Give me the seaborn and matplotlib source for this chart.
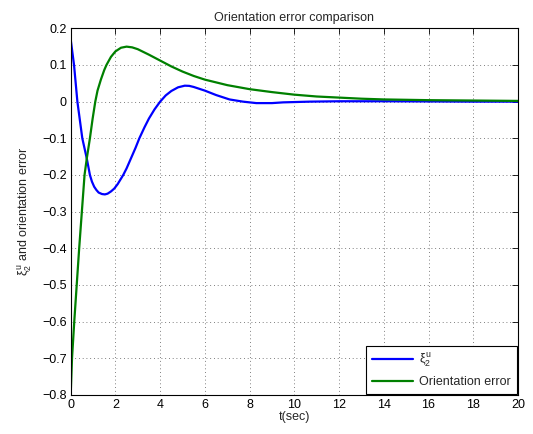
import matplotlib
matplotlib.use("Agg")
import matplotlib.pyplot as plt
import seaborn as sns
import pandas as pd

# Response of the xi_2^u state over time
xi_t = [0, 0.15, 0.3, 0.52, 0.72, 0.86, 0.95, 1.05, 1.15, 1.25, 1.4, 1.53, 1.65,
        1.8, 1.95, 2.1, 2.2, 2.35, 2.5, 2.7, 2.9, 3.07, 3.3, 3.5, 3.75, 4.0,
        4.25, 4.5, 4.8, 5.1, 5.3, 5.5, 5.75, 6.0, 6.5, 7.1, 7.7, 8.3, 9.0, 9.5,
        10.7, 12, 14, 16, 18, 20]
xi_v = [0.17, 0.10, 0.0, -0.10, -0.155, -0.20, -0.218, -0.232, -0.241, -0.248,
        -0.252, -0.253, -0.251, -0.245, -0.237, -0.225, -0.215, -0.200, -0.182,
        -0.154, -0.126, -0.10, -0.070, -0.046, -0.021, 0.0, 0.017, 0.029,
        0.039, 0.0435, 0.0430, 0.040, 0.035, 0.030, 0.018, 0.006, 0.0, -0.004,
        -0.004, -0.002, 0.0, 0.001, 0.001, 0.0005, 0.0, 0.0]

# Orientation error over time
err_t = [0, 0.06, 0.16, 0.27, 0.38, 0.5, 0.62, 0.72, 0.86, 0.98, 1.1, 1.2,
         1.35, 1.5, 1.6, 1.8, 2.0, 2.25, 2.5, 2.75, 3.0, 3.5, 4.0, 4.5, 5.0,
         5.5, 6.0, 7.0, 8.0, 9.0, 10, 11, 12, 13, 14, 16, 18, 20]
err_v = [-0.8, -0.7, -0.6, -0.5, -0.4, -0.3, -0.2, -0.155, -0.1, -0.047, 0.0,
         0.03, 0.06, 0.086, 0.10, 0.122, 0.137, 0.147, 0.150, 0.148, 0.143,
         0.128, 0.112, 0.096, 0.082, 0.070, 0.060, 0.045, 0.034, 0.026, 0.019,
         0.014, 0.011, 0.008, 0.006, 0.004, 0.003, 0.002]

x_ticks = list(range(0, 21, 2))
y_ticks = [0.2, 0.1, 0, -0.1, -0.2, -0.3, -0.4, -0.5, -0.6, -0.7, -0.8]
y_tick_labels = ["0.2", "0.1", "0", "\u22120.1", "\u22120.2", "\u22120.3",
                 "\u22120.4", "\u22120.5", "\u22120.6", "\u22120.7", "\u22120.8"]

sns.set_style("white")
plt.rcParams["font.family"] = ["Liberation Sans", "DejaVu Sans"]
plt.rcParams["mathtext.fontset"] = "custom"
plt.rcParams["mathtext.rm"] = "Liberation Sans"
plt.rcParams["mathtext.it"] = "Liberation Sans"
plt.rcParams["lines.solid_joinstyle"] = "round"

FS = 9

fig = plt.figure(figsize=(5.33, 4.34), dpi=100)
ax = fig.add_axes([0.1326, 0.0899, 0.8393, 0.8449])

df_xi = pd.DataFrame({"t": xi_t, "v": xi_v})
df_err = pd.DataFrame({"t": err_t, "v": err_v})
sns.lineplot(data=df_xi, x="t", y="v", ax=ax, color="#0000ff", lw=1.6,
             label=r"$\xi_2^u$", sort=False)
sns.lineplot(data=df_err, x="t", y="v", ax=ax, color="#008000", lw=1.6,
             label="Orientation error", sort=False)

ax.set_xlim(0, 20)
ax.set_ylim(-0.8, 0.2)
ax.set_xticks(x_ticks)
ax.set_yticks(y_ticks)
ax.set_xticklabels([str(v) for v in x_ticks])
ax.set_yticklabels(y_tick_labels)
ax.grid(True, color="#555555", linestyle=(0, (1, 3.5)), lw=0.6)
ax.tick_params(direction="in", length=4, width=0.6, top=True, right=True,
               labelsize=FS, colors="black", pad=3)
for s in ax.spines.values():
    s.set_color("black")
    s.set_linewidth(0.8)
    s.set_visible(True)

ax.set_title("Orientation error comparison", fontsize=FS, pad=5)
ax.set_xlabel("t(sec)", fontsize=FS, labelpad=0)
ax.set_ylabel(r"$\xi_2^u$ and orientation error", fontsize=FS, labelpad=6)

leg = ax.legend(loc="lower right", fontsize=FS, frameon=True, fancybox=False,
                edgecolor="black", framealpha=1, borderaxespad=0.1,
                handlelength=3.3, handletextpad=0.5, borderpad=0.45,
                labelspacing=0.55)
leg.get_frame().set_linewidth(0.8)

fig.savefig("out.png", dpi=100)
